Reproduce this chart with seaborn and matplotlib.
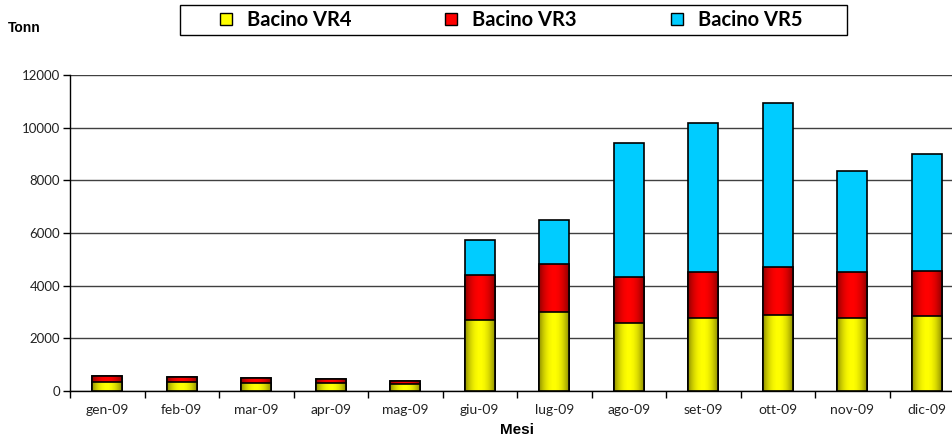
import numpy as np
import pandas as pd
import seaborn as sns
import matplotlib.pyplot as plt
from matplotlib.colors import LinearSegmentedColormap
from matplotlib.patches import Rectangle, Patch

# dati (tonnellate per mese)
mesi = ["gen-09", "feb-09", "mar-09", "apr-09", "mag-09", "giu-09",
        "lug-09", "ago-09", "set-09", "ott-09", "nov-09", "dic-09"]
vr4 = [350, 350, 315, 300, 255, 2700, 2990, 2570, 2790, 2890, 2780, 2850]
vr3 = [220, 170, 165, 140, 125, 1700, 1830, 1750, 1740, 1830, 1750, 1720]
vr5 = [0, 0, 0, 30, 0, 1330, 1690, 5090, 5630, 6200, 3820, 4430]
yticks = [0, 2000, 4000, 6000, 8000, 10000, 12000]

df = pd.DataFrame({"mese": mesi, "vr4": vr4, "vr3": vr3, "vr5": vr5})
df["top2"] = df["vr4"] + df["vr3"]
df["top3"] = df["top2"] + df["vr5"]

fig = plt.figure(figsize=(9.52, 4.38), dpi=100)
ax = fig.add_axes([70 / 952, 47 / 438, 894 / 952, 316 / 438])

# barre impilate: disegno i totali cumulati uno sopra l'altro
layers = [("top3", "#00ccff", None, 2),
          ("top2", "#ff0000", "#4a0000", 3),
          ("vr4", "#ffff00", "#4a4a00", 4)]
t = np.linspace(0, 1, 128)
grad = (np.sin(np.pi * (0.08 + 0.84 * t)) ** 0.7)[None, :]

for col, color, dark, z in layers:
    n0 = len(ax.patches)
    sns.barplot(data=df, x="mese", y=col, color=color, saturation=1, width=0.4,
                edgecolor="black", linewidth=1.2, ax=ax, errorbar=None)
    for p in ax.patches[n0:]:
        p.set_zorder(z + 0.1)
        if dark is None:
            continue
        cmap = LinearSegmentedColormap.from_list("g", [dark, color])
        x0, y0 = p.get_x(), p.get_y()
        im = ax.imshow(grad, extent=[x0, x0 + p.get_width(), y0, y0 + p.get_height()],
                       aspect="auto", cmap=cmap, vmin=0, vmax=1, zorder=z,
                       interpolation="bicubic")
        im.set_clip_path(p)
        p.set_facecolor("none")

ax.set_xlim(-0.5, len(mesi) - 0.5)
ax.set_ylim(0, 12000)
ax.set_yticks(yticks)
ax.set_yticklabels([str(v) for v in yticks])
ax.yaxis.grid(True, color="#404040", linewidth=1)
ax.set_axisbelow(True)
ax.set_xlabel("")
ax.set_ylabel("")
for s in ["top", "right"]:
    ax.spines[s].set_visible(False)
for s in ["left", "bottom"]:
    ax.spines[s].set_color("black")
    ax.spines[s].set_linewidth(1)

ax.set_xticks(np.arange(-0.5, len(mesi), 1), minor=True)
ax.tick_params(axis="x", which="major", length=0, pad=9, labelsize=10, labelcolor="#222222")
ax.tick_params(axis="x", which="minor", length=5, width=1, color="black", direction="out")
ax.tick_params(axis="y", length=5, width=1, pad=2, labelsize=9.5, labelcolor="#222222")
for lab in ax.get_xticklabels() + ax.get_yticklabels():
    lab.set_family("Lato")

# testi
fig.text(8 / 952, 1 - 28 / 438, "Tonn", fontsize=10, fontweight="bold",
         family="Liberation Sans", va="center", ha="left")
fig.text(517 / 952, 1 - 430 / 438, "Mesi", fontsize=11, fontweight="bold",
         family="Liberation Sans", va="center", ha="center")

# legenda con riquadro esterno
fig.patches.append(Rectangle((180 / 952, 1 - 35 / 438), 667 / 952, 30 / 438,
                             transform=fig.transFigure, facecolor="white",
                             edgecolor="black", linewidth=1, zorder=1))
handles = [Patch(facecolor="#ffff00", edgecolor="black", label="Bacino VR4"),
           Patch(facecolor="#ff0000", edgecolor="black", label="Bacino VR3"),
           Patch(facecolor="#00ccff", edgecolor="black", label="Bacino VR5")]
leg = fig.legend(handles=handles, loc="center", bbox_to_anchor=(511 / 952, 1 - 20 / 438),
                 ncol=3, frameon=False, handlelength=0.6, handleheight=0.6,
                 handletextpad=0.75, columnspacing=4.65,
                 prop={"family": "Lato", "weight": "bold", "size": 14.5})
leg.set_zorder(2)

fig.savefig("out.png", dpi=100)
